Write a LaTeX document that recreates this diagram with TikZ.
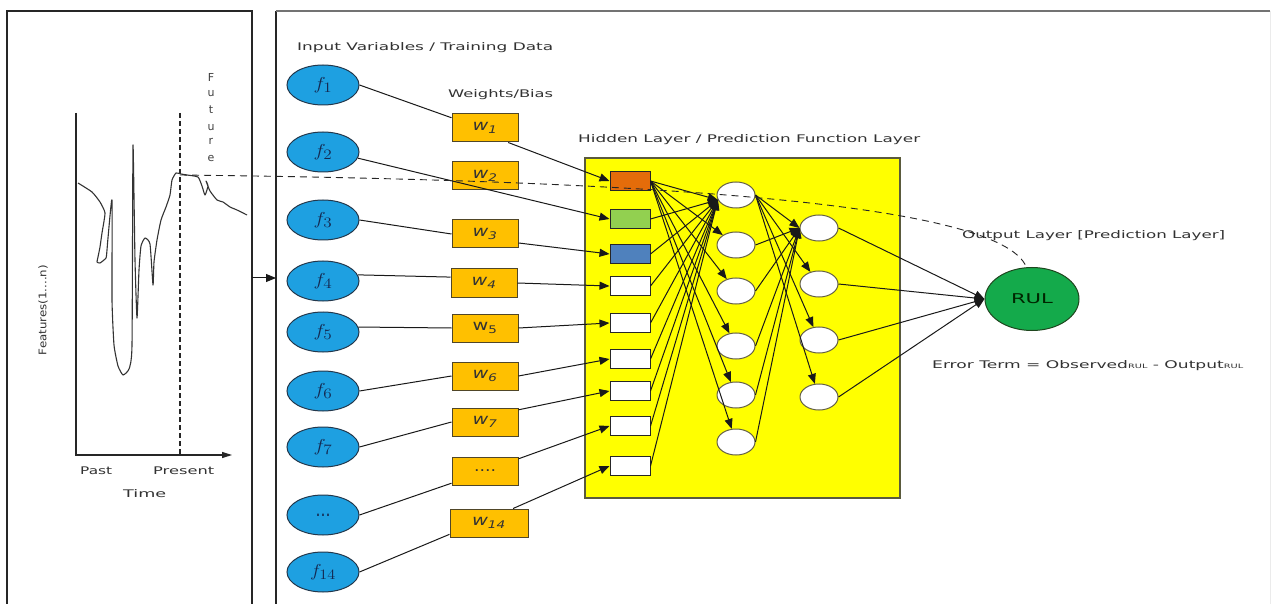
\documentclass[tikz,border=0pt]{standalone}
\usepackage{fontspec}
\setmainfont{DejaVu Sans}
\usepackage{graphicx}
\usetikzlibrary{shapes.geometric,arrows.meta,calc}

\definecolor{txt}{RGB}{50,50,50}
\definecolor{fblue}{RGB}{30,160,225}
\definecolor{fedge}{RGB}{35,55,75}
\definecolor{fink}{RGB}{20,40,80}
\definecolor{wfill}{RGB}{255,192,0}
\definecolor{wedge}{RGB}{80,70,40}
\definecolor{hfill}{RGB}{255,255,0}
\definecolor{hedge}{RGB}{90,90,60}
\definecolor{cOrange}{RGB}{228,108,10}
\definecolor{cGreen}{RGB}{146,208,80}
\definecolor{cBlue}{RGB}{79,129,189}
\definecolor{rulgreen}{RGB}{20,170,75}
\definecolor{ruledge}{RGB}{30,70,30}

% stretch a piece of text to a given width, keeping its height
\newcommand\stretchto[2]{\resizebox{#1}{\height}{#2}}

\tikzset{
  panel/.style={draw=black!85, line width=1.6pt},
  feat/.style={ellipse, draw=fedge, line width=1pt, fill=fblue, minimum width=72pt,
    minimum height=40pt, inner sep=0pt, text=fink, font=\fontsize{19}{21}\selectfont},
  wbox/.style={rectangle, draw=wedge, line width=1pt, fill=wfill, minimum width=66pt,
    minimum height=28pt, inner sep=0pt, text=black!80, font=\fontsize{15}{17}\selectfont},
  inbox/.style={rectangle, draw=black!85, line width=1pt, fill=white, minimum width=40pt,
    minimum height=19pt, inner sep=0pt},
  neuron/.style={ellipse, draw=black!70!yellow, line width=1pt, fill=white,
    minimum width=38pt, minimum height=26pt, inner sep=0pt},
  link/.style={draw=black!90, line width=1pt},
  arr/.style={link, -{Triangle[length=10pt,width=8pt]}},
  lbltext/.style={text=txt, font=\fontsize{10.5}{12}\selectfont, inner sep=0pt, anchor=base west},
  futletter/.style={text=black!75, font=\fontsize{11}{12}\selectfont, inner sep=0pt},
}

\begin{document}
\begin{tikzpicture}[x=1pt,y=-1pt]
\useasboundingbox (0,0) rectangle (1275,604);
\fill[white] (0,0) rectangle (1275,604);

% ---- panel frames
\draw[panel] (7,604) -- (7,11) -- (252,11) -- (252,604);
\draw[panel] (276,604) -- (276,11);
\draw[draw=black!55, line width=1.8pt] (276,11) -- (1270,11);
\draw[draw=black!8, line width=1pt] (1270,11) -- (1270,604);

% ---- feature history plot
\coordinate (ytop) at (76,113);
\coordinate (orig) at (76,455);
\coordinate (xend) at (232,455);
\draw[line width=1.4pt, draw=black!85, -{Triangle[length=10pt,width=6pt]}] (ytop) -- (orig) -- (xend);
\draw[line width=1.3pt, draw=black!85, dash pattern=on 5pt off 3pt] (180,113) -- (180,455);

\draw[line width=1.1pt, draw=black!80, line join=round] plot[smooth, tension=0.3] coordinates {
  (78,183) (92,192) (100,202) (105,213) (102,233) (100,247) (98,257) (97,262)
  (100,263) (106,258) (107,250) (108,238) (112,200) (112,300) (114,345) (118,366)
  (123,375) (129,369) (132,345) (133,145) (135,260) (137,318) (139,270) (141,246)
  (145,238) (150,244) (153,285) (154,262) (157,240) (161,220) (166,207) (170,195)
  (172,180) (176,173) (181,174) (187,175) (198,177) (202,186) (205,195) (208,186)
  (206,181) (210,191) (217,200) (223,202) (230,207) (237,210) (247,215)};

\foreach \ch/\yy in {F/77, u/93, t/110, u/127, r/141, e/158}
  \node[futletter] at (211,\yy) {\ch};

\node[text=txt, font=\fontsize{10.5}{11}\selectfont, inner sep=0pt, rotate=90] (flabel) at (43,310)
  {\stretchto{90pt}{Features(1....n)}};
\node[lbltext] (past) at (80,474) {\stretchto{32pt}{Past}};
\node[lbltext] (present) at (153,474) {\stretchto{61pt}{Present}};
\node[lbltext] (time) at (123,497) {\stretchto{43pt}{Time}};

% hand-over from the history panel to the network panel
\coordinate (hand1) at (252,278);
\coordinate (hand2) at (276,278);
\draw[arr] (hand1) -- (hand2);

% ---- titles
\node[lbltext] (tin) at (297,51) {\stretchto{256pt}{Input Variables / Training Data}};
\node[lbltext] (twb) at (448,98) {\stretchto{105pt}{Weights/Bias}};
\node[lbltext] (thl) at (578,143) {\stretchto{342pt}{Hidden Layer / Prediction Function Layer}};

% ---- hidden layer panel
\node[rectangle, draw=hedge, line width=1.2pt, fill=hfill, minimum width=315pt,
  minimum height=340pt, inner sep=0pt] (hl) at (742.5,328) {};

% ---- input features
\node[feat] (f1) at (323,85) {\stretchto{19pt}{$f_{1}$}};
\node[feat] (f2) at (323,152) {\stretchto{19pt}{$f_{2}$}};
\node[feat] (f3) at (323,220) {\stretchto{19pt}{$f_{3}$}};
\node[feat] (f4) at (323,281) {\stretchto{19pt}{$f_{4}$}};
\node[feat] (f5) at (323,332) {\stretchto{19pt}{$f_{5}$}};
\node[feat] (f6) at (323,391) {\stretchto{19pt}{$f_{6}$}};
\node[feat] (f7) at (323,447) {\stretchto{19pt}{$f_{7}$}};
\node[feat] (fd) at (323,515) {\stretchto{15pt}{...}};
\node[feat] (f14) at (323,572) {\stretchto{26pt}{$f_{14}$}};

% ---- weights
\node[wbox] (w1) at (485,128) {\stretchto{25pt}{\textit{w}\textsubscript{\textit{1}}}};
\node[wbox] (w2) at (485,176) {\stretchto{25pt}{\textit{w}\textsubscript{\textit{2}}}};
\node[wbox] (w3) at (485,234) {\stretchto{25pt}{\textit{w}\textsubscript{\textit{3}}}};
\node[wbox] (w4) at (484,283) {\stretchto{25pt}{\textit{w}\textsubscript{\textit{4}}}};
\node[wbox] (w5) at (485,328) {\stretchto{25pt}{w\textsubscript{5}}};
\node[wbox] (w6) at (485,376) {\stretchto{25pt}{\textit{w}\textsubscript{\textit{6}}}};
\node[wbox] (w7) at (485,422) {\stretchto{25pt}{\textit{w}\textsubscript{\textit{7}}}};
\node[wbox] (wd) at (485,471) {\stretchto{22pt}{....}};
\node[wbox, minimum width=78pt] (w14) at (489,523) {\stretchto{34pt}{\textit{w}\textsubscript{\textit{14}}}};

% ---- first-stage units
\node[inbox, fill=cOrange] (i1) at (630,181) {};
\node[inbox, fill=cGreen]  (i2) at (630,219) {};
\node[inbox, fill=cBlue]   (i3) at (630,254) {};
\node[inbox] (i4) at (630,286) {};
\node[inbox] (i5) at (630,323) {};
\node[inbox] (i6) at (630,359) {};
\node[inbox] (i7) at (630,391) {};
\node[inbox] (i8) at (630,426) {};
\node[inbox] (i9) at (630,466) {};

% ---- hidden neurons
\foreach \n/\yy in {1/195, 2/245, 3/291, 4/346, 5/395, 6/442}
  \node[neuron] (h\n) at (736,\yy) {};
\foreach \n/\yy in {1/228, 2/284, 3/340, 4/397}
  \node[neuron] (o\n) at (819,\yy) {};

% ---- output
\node[ellipse, draw=ruledge, line width=1pt, fill=rulgreen, minimum width=94pt,
  minimum height=63pt, inner sep=0pt, text=black!85!green,
  font=\fontsize{13.5}{15}\selectfont] (rul) at (1032,299) {\stretchto{42pt}{RUL}};
\node[lbltext] (tout) at (962,239) {\stretchto{263pt}{Output Layer [Prediction Layer]}};
\node[lbltext] (terr) at (932,368) {\stretchto{311pt}{Error Term = Observed{\fontsize{6}{7}\selectfont RUL} - Output{\fontsize{6}{7}\selectfont RUL}}};

% ---- features to weights to units
\draw[link] (f1.east) -- (w1.163);
\draw[arr]  (w1.-32) -- (i1.west);
\draw[link] (f3.east) -- (w3.west);
\draw[arr]  (w3.-15) -- (i3.west);
\draw[link] (f4.10) -- (w4.170);
\draw[arr]  (w4.east) -- (i4.west);
\draw[link] (f5.8) -- (w5.west);
\draw[arr]  (w5.east) -- (i5.west);
\draw[link] (f6.east) -- (w6.west);
\draw[arr]  (w6.east) -- (i6.west);
\draw[link] (f7.east) -- (w7.west);
\draw[arr]  (w7.20) -- (i7.west);
\draw[link] (fd.east) -- (wd.-160);
\draw[arr]  (wd.20) -- (i8.west);
\draw[link] (f14.east) -- (w14.-164);
\draw[arr]  (w14.31) -- (i9.west);
\draw[arr]  (f2.-10) -- (i2.west);

% ---- units to hidden neurons
\foreach \i in {1,...,9}
  \draw[arr] (i\i.east) -- (h1.195);
\foreach \j in {2,...,6}
  \draw[arr] (i1.east) -- (h\j);

% ---- hidden neurons to second layer
\foreach \j in {1,...,6}
  \draw[arr] (h\j.east) -- (o1.west);
\foreach \k in {2,3,4}
  \draw[arr] (h1.east) -- (o\k);

% ---- second layer to RUL
\foreach \k in {1,...,4}
  \draw[arr] (o\k.east) -- (rul.west);

% ---- projection from the present value to the predicted RUL
\coordinate (now) at (180,175);
\draw[draw=black!85, line width=0.9pt, dash pattern=on 7pt off 5pt]
  (now) .. controls (620,180) and (1000,200) .. (rul.100);

\end{tikzpicture}
\end{document}
